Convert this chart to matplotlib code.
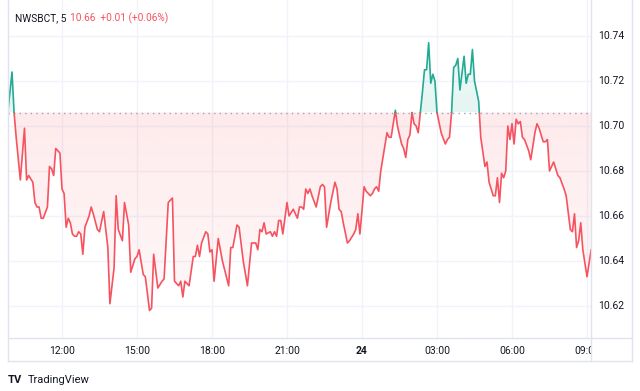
import matplotlib
matplotlib.use("Agg")
import matplotlib.pyplot as plt
import numpy as np
from matplotlib.path import Path
from matplotlib.patches import Rectangle
from matplotlib.lines import Line2D

# --- data (5 min bars, 23rd -> 24th) ---
times = [
    "09:50", "10:00", "10:05", "10:10", "10:20", "10:30", "10:35", "10:40", "10:50", "10:55",
    "11:00", "11:05", "11:10", "11:15", "11:25", "11:30", "11:35", "11:40", "11:45", "11:50",
    "11:55", "12:00", "12:05", "12:10", "12:15", "12:20", "12:25", "12:30", "12:35", "12:40",
    "12:45", "12:50", "12:55", "13:05", "13:10", "13:15", "13:25", "13:30", "13:40", "13:50",
    "13:55", "14:05", "14:10", "14:15", "14:25", "14:30", "14:40", "14:45", "14:55", "15:00",
    "15:05", "15:15", "15:20", "15:30", "15:35", "15:40", "15:50", "16:00", "16:05", "16:15",
    "16:25", "16:30", "16:40", "16:45", "16:50", "16:55", "17:05", "17:15", "17:20", "17:25",
    "17:30", "17:35", "17:45", "17:50", "17:55", "18:00", "18:05", "18:15", "18:25", "18:40",
    "18:45", "18:50", "19:00", "19:05", "19:15", "19:25", "19:35", "19:40", "19:45", "19:50",
    "19:55", "20:00", "20:05", "20:10", "20:20", "20:25", "20:30", "20:35", "20:40", "20:45",
    "20:50", "21:00", "21:05", "21:15", "21:20", "21:25", "21:30", "21:35", "21:40", "21:45",
    "21:50", "21:55", "22:00", "22:10", "22:20", "22:25", "22:30", "22:35", "22:45", "22:55",
    "23:00", "23:05", "23:10", "23:15", "23:25", "23:30", "23:40", "23:45", "23:50", "23:55",
    "00:05", "00:10", "00:20", "00:25", "00:30", "00:35", "00:40", "00:45", "01:00", "01:05",
    "01:10", "01:20", "01:25", "01:35", "01:40", "01:45", "01:50", "01:55", "02:00", "02:05",
    "02:10", "02:15", "02:20", "02:25", "02:30", "02:35", "02:40", "02:45", "02:50", "02:55",
    "03:00", "03:10", "03:20", "03:25", "03:30", "03:35", "03:40", "03:45", "03:50", "03:55",
    "04:05", "04:10", "04:15", "04:20", "04:25", "04:30", "04:40", "04:45", "04:55", "05:00",
    "05:05", "05:15", "05:20", "05:25", "05:30", "05:35", "05:40", "05:45", "05:50", "05:55",
    "06:00", "06:05", "06:10", "06:15", "06:20", "06:25", "06:30", "06:40", "06:45", "06:55",
    "07:00", "07:05", "07:15", "07:20", "07:25", "07:30", "07:40", "07:50", "07:55", "08:05",
    "08:10", "08:20", "08:25", "08:30", "08:35", "08:40", "08:45", "08:50", "09:00", "09:05",
    "09:10",
]
prices = [
    10.706, 10.724, 10.706, 10.695, 10.676, 10.699, 10.676, 10.678, 10.675, 10.666,
    10.664, 10.664, 10.659, 10.659, 10.664, 10.682, 10.681, 10.678, 10.690, 10.689,
    10.688, 10.672, 10.670, 10.655, 10.659, 10.657, 10.652, 10.651, 10.651, 10.653,
    10.652, 10.643, 10.655, 10.660, 10.664, 10.661, 10.654, 10.653, 10.662, 10.646,
    10.621, 10.637, 10.669, 10.654, 10.649, 10.666, 10.656, 10.635, 10.641, 10.642,
    10.645, 10.634, 10.633, 10.618, 10.619, 10.643, 10.628, 10.631, 10.632, 10.666,
    10.668, 10.631, 10.629, 10.631, 10.624, 10.631, 10.629, 10.642, 10.642, 10.647,
    10.642, 10.648, 10.653, 10.652, 10.644, 10.645, 10.631, 10.650, 10.640, 10.629,
    10.646, 10.646, 10.656, 10.655, 10.640, 10.629, 10.648, 10.648, 10.648, 10.645,
    10.654, 10.653, 10.657, 10.652, 10.653, 10.651, 10.653, 10.651, 10.658, 10.658,
    10.652, 10.666, 10.660, 10.663, 10.661, 10.659, 10.664, 10.664, 10.663, 10.672,
    10.670, 10.672, 10.669, 10.664, 10.673, 10.674, 10.673, 10.655, 10.666, 10.675,
    10.672, 10.663, 10.662, 10.657, 10.648, 10.649, 10.652, 10.654, 10.661, 10.652,
    10.673, 10.671, 10.669, 10.670, 10.672, 10.673, 10.671, 10.680, 10.697, 10.695,
    10.695, 10.707, 10.700, 10.692, 10.690, 10.686, 10.694, 10.696, 10.706, 10.701,
    10.700, 10.697, 10.706, 10.715, 10.725, 10.725, 10.737, 10.719, 10.723, 10.720,
    10.706, 10.697, 10.692, 10.694, 10.695, 10.706, 10.726, 10.727, 10.730, 10.716,
    10.731, 10.719, 10.723, 10.723, 10.734, 10.720, 10.711, 10.695, 10.682, 10.684,
    10.675, 10.669, 10.669, 10.677, 10.666, 10.679, 10.677, 10.680, 10.700, 10.694,
    10.701, 10.692, 10.703, 10.701, 10.702, 10.695, 10.694, 10.689, 10.685, 10.697,
    10.701, 10.699, 10.693, 10.693, 10.694, 10.680, 10.684, 10.678, 10.677, 10.672,
    10.669, 10.654, 10.653, 10.661, 10.646, 10.649, 10.657, 10.645, 10.633, 10.639,
    10.645,
]
base_price = 10.706
price_ticks = [10.62, 10.64, 10.66, 10.68, 10.70, 10.72, 10.74]
tick_hours = [12, 15, 18, 21, 24, 27, 30, 33]
tick_labels = ["12:00", "15:00", "18:00", "21:00", "24", "03:00", "06:00", "09:00"]
symbol = "NWSBCT, 5"
quote = "10.66  +0.01 (+0.06%)"

RED = "#f7525f"
TEAL = "#22ab94"
GRID = "#f0f3fa"
BORDER = "#e0e3eb"
TEXT = "#131722"
FONT = "Roboto"


def to_minutes(ts):
    out, day, prev = [], 0, -1
    for t in ts:
        h, m = (int(v) for v in t.split(":"))
        v = h * 60 + m
        if v < prev:
            day += 1440
        prev = v
        out.append(v + day)
    return np.array(out, dtype=float)


x = to_minutes(times)
y = np.array(prices)

W, H = 640, 391
fig = plt.figure(figsize=(W / 100, H / 100), dpi=100)
fig.patch.set_facecolor("white")

# pixel layout of the TradingView widget
L, R, TOP, PB, TB, PR = 8, 591, 0, 338, 361, 632


def box(x0, x1, y0, y1):
    return [x0 / W, 1 - y1 / H, (x1 - x0) / W, (y1 - y0) / H]


ax = fig.add_axes(box(L, R, TOP, PB))
x_lo = 720 + (L - 62) * 2.4
x_hi = 720 + (R - 62) * 2.4
y_hi = 10.70 + (126 - TOP) / 2250
y_lo = 10.70 - (PB - 126) / 2250
ax.set_xlim(x_lo, x_hi)
ax.set_ylim(y_lo, y_hi)
ax.axis("off")

for p in price_ticks:
    ax.axhline(p, color=GRID, lw=1, zorder=0)
for h in tick_hours:
    ax.axvline(h * 60, color=GRID, lw=1, zorder=0)


def gradient_fill(below, rgb, a_near, a_far):
    mask = (y <= base_price) if below else (y >= base_price)
    poly = ax.fill_between(x, y, base_price, where=mask, interpolate=True,
                           facecolor="none", edgecolor="none")
    path = Path.make_compound_path(*poly.get_paths())
    n = 256
    img = np.zeros((n, 1, 4))
    img[..., :3] = matplotlib.colors.to_rgb(rgb)
    if below:
        img[:, 0, 3] = np.linspace(a_far, a_near, n)
        ext = [x_lo, x_hi, y_lo, base_price]
    else:
        img[:, 0, 3] = np.linspace(a_near, a_far, n)
        ext = [x_lo, x_hi, base_price, y_hi]
    im = ax.imshow(img, extent=ext, origin="lower", aspect="auto", zorder=1,
                   interpolation="bilinear")
    im.set_clip_path(path, transform=ax.transData)


gradient_fill(True, RED, 0.12, 0.03)
gradient_fill(False, TEAL, 0.12, 0.03)
ax.set_xlim(x_lo, x_hi)
ax.set_ylim(y_lo, y_hi)

ax.axhline(base_price, color="#a0a3ab", lw=1, ls=(0, (1, 3)), zorder=2)

red_line, = ax.plot(x, y, color=RED, lw=1.2, zorder=3, solid_joinstyle="round")
red_line.set_clip_path(Rectangle((x_lo, y_lo), x_hi - x_lo, base_price - y_lo,
                                 transform=ax.transData))
teal_line, = ax.plot(x, y, color=TEAL, lw=1.2, zorder=3, solid_joinstyle="round")
teal_line.set_clip_path(Rectangle((x_lo, base_price), x_hi - x_lo, y_hi - base_price,
                                  transform=ax.transData))

# price scale
ax_p = fig.add_axes(box(R, PR, TOP, PB))
ax_p.set_xlim(0, 1)
ax_p.set_ylim(y_lo, y_hi)
ax_p.axis("off")
for p in price_ticks:
    ax_p.text(0.17, p, f"{p:.2f}", ha="left", va="center", fontsize=7.5,
              color=TEXT, family=FONT)

# time scale
ax_t = fig.add_axes(box(L, R, PB, TB))
ax_t.set_xlim(x_lo, x_hi)
ax_t.set_ylim(0, 1)
ax_t.axis("off")
for h, lab in zip(tick_hours, tick_labels):
    ax_t.text(h * 60, 0.45, lab, ha="center", va="center", fontsize=7.5,
              color=TEXT, family=FONT, clip_on=True,
              fontweight="bold" if lab == "24" else "normal")

# frame lines
for (x0, y0, x1, y1) in [(L, TOP, L, TB), (R, TOP, R, TB), (PR, TOP, PR, TB),
                         (L, TB, PR, TB), (L, PB, PR, PB)]:
    fig.add_artist(Line2D([x0 / W, x1 / W], [1 - y0 / H, 1 - y1 / H],
                          color=BORDER, lw=1))

# header
fig.text(15 / W, 1 - 18 / H, symbol, ha="left", va="center", fontsize=7.3,
         color=TEXT, family=FONT)
fig.text(70 / W, 1 - 18 / H, quote, ha="left", va="center", fontsize=7.3,
         color=RED, family=FONT)

# footer logo
fig.text(8 / W, 1 - 380 / H, "TV", ha="left", va="center", fontsize=8,
         fontweight="bold", color=TEXT, family=FONT)
fig.text(28 / W, 1 - 380 / H, "TradingView", ha="left", va="center", fontsize=8,
         color=TEXT, family=FONT)

fig.savefig("out.png", dpi=100, facecolor="white")
